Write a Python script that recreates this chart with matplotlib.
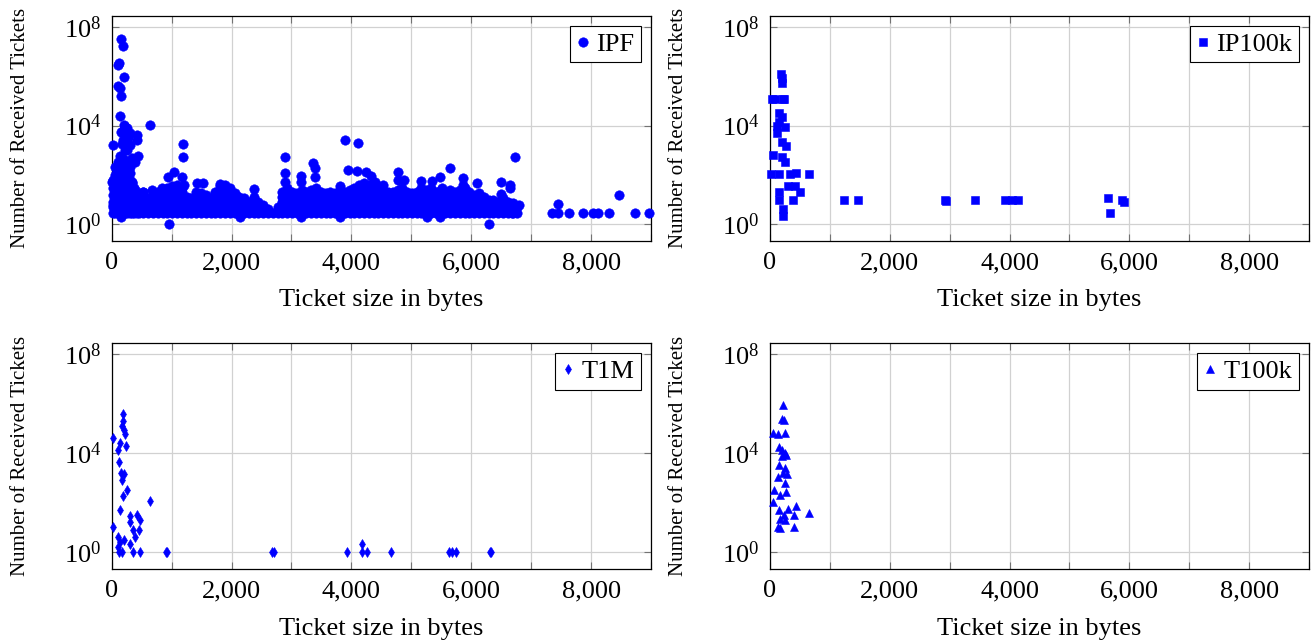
import matplotlib
matplotlib.use('Agg')
import matplotlib.pyplot as plt
from matplotlib.lines import Line2D
from matplotlib.ticker import FixedLocator, FuncFormatter, NullLocator, LogFormatterMathtext

plt.rcParams['font.family'] = ['Liberation Serif', 'DejaVu Serif']
plt.rcParams['mathtext.fontset'] = 'stix'

BLUE = '#0000ff'

# ---------------- data (ticket size in bytes, number of received tickets) ----------------
# IPF: isolated / peak points
ipf_peak_sizes = [155, 183, 110, 120, 210, 100, 140, 155, 138, 205, 638, 255, 170, 150, 416, 300,
                  416, 27, 170, 300, 230, 444, 333, 185, 110, 390, 100, 300, 140, 10, 85, 333, 220,
                  390, 527, 667, 60, 140, 330, 30, 527, 150, 960, 200, 230, 280, 250, 190]
ipf_peak_counts = [3.1e7, 1.7e7, 2.8e6, 3.3e6, 8.9e5, 4.0e5, 3.2e5, 1.5e5, 2.4e4, 1.05e4, 1.05e4,
                   7900, 5600, 5600, 4000, 5000, 2500, 1600, 1800, 1700, 1000, 590, 480, 400, 320,
                   320, 160, 125, 125, 52, 45, 48, 33, 24, 20, 25, 12.6, 9.3, 8, 5.8, 9.3, 2, 1,
                   7000, 8500, 3000, 2000, 2500]
ipf_mid_sizes = [945, 1040, 1183, 1183, 1170, 1417, 1528, 833, 1805, 2372, 2372, 2138, 1200, 1150,
                 2888, 2888, 2888, 3155, 3155, 3155, 3361, 3390, 3390, 3816, 3888, 3944, 3816,
                 4110, 4100, 4250, 4320, 4400, 4530, 4780, 4780, 4870, 5170, 5340, 5480, 5520,
                 5650, 5870, 5870, 6100, 6500, 6500, 6640, 6640, 6730, 6800, 6640, 6680, 5270,
                 5480, 6290]
ipf_mid_counts = [80, 135, 1740, 550, 85, 48, 48, 29, 42, 26, 13, 2, 40, 30,
                  550, 125, 52, 91, 52, 2, 295, 186, 85, 35, 2570, 160, 2,
                  1900, 140, 130, 90, 50, 40, 135, 60, 60, 55, 55, 85, 30,
                  185, 72, 40, 48, 52, 17, 40, 30, 550, 6.3, 6.3, 3, 2,
                  2, 1]
ipf_tail_sizes = [7350, 7450, 7450, 7630, 7870, 8040, 8120, 8300, 8470, 8740, 8970]
ipf_tail_counts = [3, 3, 6.5, 3, 3, 3, 3, 3, 15, 3, 3]

# IPF: dense band, one column of counts per ticket size
ipf_band_sizes = [20, 60, 100, 140, 180, 220, 260, 300, 340, 380, 420,
                  450, 530, 610, 690, 770, 850, 930, 1010, 1090, 1170, 1250, 1330, 1410,
                  1490, 1570, 1650, 1730, 1810, 1890, 1970, 2050, 2130, 2210, 2290, 2370,
                  2450, 2530, 2610, 2690, 2770,
                  2850, 2930, 3010, 3090, 3170, 3250, 3330, 3410, 3490, 3570, 3650, 3730,
                  3810, 3890, 3970, 4050, 4130, 4210, 4290, 4370, 4450, 4530, 4610, 4690,
                  4770, 4850, 4930, 5010, 5090, 5170, 5250, 5330, 5410, 5490, 5570, 5650,
                  5730, 5810, 5890, 5970, 6050, 6130, 6210, 6290,
                  6370, 6450, 6530, 6610, 6690, 6770]
ipf_band_counts = [
    [3, 5, 8, 15, 30, 60],
    [3, 5, 8, 13, 20, 40, 100, 200],
    [3, 5, 8, 13, 20, 35, 60, 100, 200],
    [3, 4, 6, 10, 18, 30, 60, 150, 300, 600],
    [3, 5, 8, 13, 25, 50, 100, 250, 500],
    [3, 5, 8, 13, 20, 40, 80, 150, 400, 1500],
    [3, 5, 8, 13, 25, 50, 100, 300, 1000],
    [3, 5, 8, 15, 30, 60, 200],
    [3, 5, 8, 13, 25, 50],
    [3, 5, 8, 15, 30],
    [3, 5, 8, 12],
    [3, 5, 8, 10],
    [3, 5, 8, 13, 20],
    [3, 5, 8, 12],
    [3, 5, 8, 13, 16],
    [3, 5, 8, 13, 20],
    [3, 5, 8, 13, 22],
    [3, 5, 8, 13, 20, 30],
    [3, 5, 8, 13, 20, 35],
    [3, 5, 8, 13, 20, 40],
    [3, 5, 8, 13, 20, 30],
    [3, 5, 8, 13],
    [3, 5, 8, 12],
    [3, 5, 8, 13, 20],
    [3, 5, 8, 13, 18],
    [3, 5, 8, 13, 16],
    [3, 5, 8, 12],
    [3, 5, 8, 13, 20],
    [3, 5, 8, 13, 20, 35],
    [3, 5, 8, 13, 20, 40],
    [3, 5, 8, 13, 20, 30],
    [3, 5, 8, 13, 18],
    [3, 5, 8, 13],
    [3, 5, 8, 12],
    [3, 5, 8],
    [3, 5, 8, 10],
    [3, 5, 8],
    [3, 5, 6],
    [3, 4],
    [3],
    [3, 5],
    [3, 5, 8, 13, 20],
    [3, 5, 8, 13, 20, 30],
    [3, 5, 8, 13, 20],
    [3, 5, 8, 13, 18],
    [3, 5, 8, 13, 20, 25],
    [3, 5, 8, 13, 20],
    [3, 5, 8, 13, 20, 25],
    [3, 5, 8, 13, 20, 30],
    [3, 5, 8, 13, 20],
    [3, 5, 8, 13, 18],
    [3, 5, 8, 13, 20],
    [3, 5, 8, 13, 18],
    [3, 5, 8, 13, 20, 25],
    [3, 5, 8, 13, 20],
    [3, 5, 8, 13, 20, 25],
    [3, 5, 8, 13, 20, 30],
    [3, 5, 8, 13, 20, 30, 40],
    [3, 5, 8, 13, 20, 30, 45],
    [3, 5, 8, 13, 20, 30, 40],
    [3, 5, 8, 13, 20, 30],
    [3, 5, 8, 13, 20, 30],
    [3, 5, 8, 13, 20, 25],
    [3, 5, 8, 13, 20],
    [3, 5, 8, 13, 20],
    [3, 5, 8, 13, 20, 25],
    [3, 5, 8, 13, 20, 30],
    [3, 5, 8, 13, 20],
    [3, 5, 8, 13, 18],
    [3, 5, 8, 13, 20],
    [3, 5, 8, 13, 20, 30],
    [3, 5, 8, 13, 20, 25],
    [3, 5, 8, 13, 20, 30],
    [3, 5, 8, 13, 20],
    [3, 5, 8, 13, 20, 25],
    [3, 5, 8, 13, 20],
    [3, 5, 8, 13, 20, 25],
    [3, 5, 8, 13, 20],
    [3, 5, 8, 13, 20, 25],
    [3, 5, 8, 13, 20, 30],
    [3, 5, 8, 13, 20],
    [3, 5, 8, 13, 15],
    [3, 5, 8, 13, 18],
    [3, 5, 8, 13],
    [3, 5, 8, 10],
    [3, 5, 8, 10],
    [3, 5, 8],
    [3, 5, 8, 12],
    [3, 5, 8],
    [3, 5, 7],
    [3, 5],
]

ip100k_sizes = [180, 195, 195, 28, 83, 222, 155, 192, 145, 111, 250, 111, 192, 267, 56, 192,
                250, 12, 145, 334, 434, 651, 306, 417, 501, 145, 145, 389, 222, 211, 233,
                1230, 1470, 2920, 2945, 3420, 3923, 4034, 4145, 5650, 5680, 5880, 5910]
ip100k_counts = [1.2e6, 8.1e5, 5.4e5, 1.17e5, 1.17e5, 1.17e5, 3.1e4, 2.3e4, 1.4e4, 9500, 8900,
                 5100, 2200, 1500, 630, 550, 340, 105, 105, 107, 115, 107, 35, 34, 21, 21, 10,
                 10, 4, 2.2, 1.15e5,
                 10, 10, 10, 9, 10, 10, 10, 10, 11.5, 3, 10, 8]

t1m_sizes = [186, 193, 172, 207, 228, 18, 137, 242, 102, 116, 158, 207, 172, 256, 186, 642,
             137, 312, 418, 467, 18, 312, 355, 453, 102, 383, 137, 207, 312, 102,
             172, 116, 348, 467, 909, 930, 2682, 2710, 3925, 4170, 4184, 4254, 4661, 5630,
             5680, 5750, 6310, 6330]
t1m_counts = [3.7e5, 2.0e5, 1.26e5, 9.1e4, 6.3e4, 4.0e4, 2.6e4, 2.0e4, 1.4e4, 4300, 1600, 1500,
              850, 320, 190, 117, 51, 28, 32, 21, 11, 17, 8, 8, 4.2, 4.2, 2.6, 3.1, 2.2, 1.7,
              1, 1, 1, 1, 1, 1, 1, 1, 1, 2.1, 1, 1, 1, 1,
              1, 1, 1, 1]

t100k_sizes = [215, 200, 237, 47, 130, 257, 150, 200, 247, 200, 264, 150, 247, 215, 286, 130,
               63, 257, 264, 164, 47, 432, 298, 150, 650, 398, 164, 257, 130, 164, 398, 230]
t100k_counts = [8.7e5, 2.5e5, 2.2e5, 6.8e4, 6.3e4, 6.8e4, 1.8e4, 1.3e4, 1.0e4, 7600, 8900, 3500,
                2500, 1600, 1500, 1150, 320, 620, 280, 210, 112, 76, 56, 51, 37, 32, 23, 21,
                11, 10, 11, 32]

x_major = [0, 2000, 4000, 6000, 8000]
x_minor = [1000, 3000, 5000, 7000, 9000]
y_major = [1, 1e4, 1e8]

# ---------------- assemble IPF ----------------
ipf_x = list(ipf_peak_sizes) + list(ipf_mid_sizes) + list(ipf_tail_sizes)
ipf_y = list(ipf_peak_counts) + list(ipf_mid_counts) + list(ipf_tail_counts)
for s, col in zip(ipf_band_sizes, ipf_band_counts):
    ipf_x += [s] * len(col)
    ipf_y += col

panels = [
    ('IPF', ipf_x, ipf_y, 'o', 6.8, [0.0851, 0.6246, 0.4111, 0.3509]),
    ('IP100k', ip100k_sizes, ip100k_counts, 's', 6.0, [0.5869, 0.6246, 0.4108, 0.3509]),
    ('T1M', t1m_sizes, t1m_counts, 'd', 5.6, [0.0851, 0.1137, 0.4111, 0.3516]),
    ('T100k', t100k_sizes, t100k_counts, '^', 6.2, [0.5869, 0.1137, 0.4108, 0.3516]),
]

fig = plt.figure(figsize=(13.12, 6.42), dpi=100)

for name, xs, ys, mk, ms, pos in panels:
    ax = fig.add_axes(pos)
    ax.set_xscale('linear')
    ax.set_yscale('log')
    ax.set_xlim(0, 9000)
    ax.set_ylim(10 ** -0.676, 10 ** 8.445)
    ax.plot(xs, ys, linestyle='none', marker=mk, ms=ms, color=BLUE, mec=BLUE, mew=0.4,
            clip_on=False, zorder=3)

    ax.xaxis.set_major_locator(FixedLocator(x_major))
    ax.xaxis.set_minor_locator(FixedLocator(x_minor))
    ax.xaxis.set_major_formatter(FuncFormatter(lambda v, p: f'{int(round(v)):,}'))
    ax.yaxis.set_major_locator(FixedLocator(y_major))
    ax.yaxis.set_minor_locator(NullLocator())
    ax.yaxis.set_major_formatter(LogFormatterMathtext())

    ax.set_axisbelow(True)
    ax.grid(True, which='both', axis='x', color='0.82', lw=0.9)
    ax.grid(True, which='major', axis='y', color='0.82', lw=0.9)
    ax.tick_params(which='both', direction='in', top=True, right=True, length=5,
                   width=0.8, color='0.45')
    ax.tick_params(axis='x', which='major', labelsize=19, pad=8)
    ax.tick_params(axis='y', which='major', labelsize=19, pad=7.5)
    for sp in ax.spines.values():
        sp.set_linewidth(0.9)
        sp.set_color('black')

    ax.set_xlabel('Ticket size in bytes', fontsize=19)
    ax.set_ylabel('Number of Received Tickets', fontsize=15)
    ax.xaxis.set_label_coords(0.5, -0.215)
    ax.yaxis.set_label_coords(-0.152, 0.5)

    h = Line2D([], [], linestyle='none', marker=mk, ms=ms, color=BLUE, mec=BLUE, mew=0.4)
    leg = ax.legend([h], [name], loc='upper right', fontsize=19, numpoints=1,
                    handlelength=0.5, handletextpad=0.25, borderpad=0.25,
                    borderaxespad=0.38, fancybox=False, framealpha=1, edgecolor='black')
    leg.get_frame().set_linewidth(0.8)

fig.savefig('out.png', dpi=100)
